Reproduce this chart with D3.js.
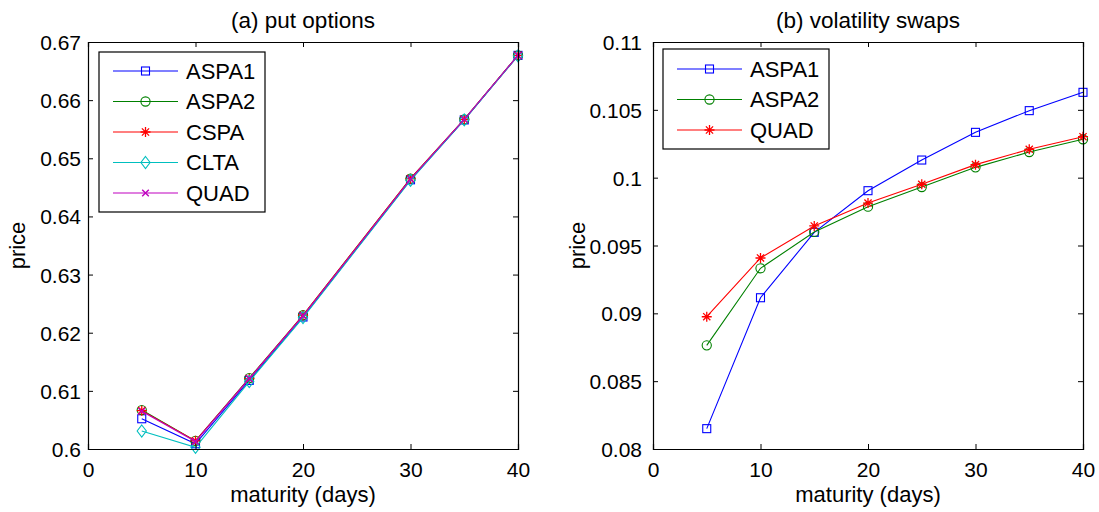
<!DOCTYPE html>
<html><head><meta charset="utf-8">
<script src="https://cdn.jsdelivr.net/npm/d3@7"></script>
<style>body{margin:0;background:#fff} text{font-family:"Liberation Sans",Arial,Helvetica,sans-serif;fill:#000}</style>
</head><body><svg id="c" width="1099" height="512"></svg>
<script>
// ---- data ----
const daysA = [5, 10, 15, 20, 30, 35, 40];
const aspa1A = [0.6052, 0.6009, 0.6118, 0.6227, 0.6463, 0.6566, 0.6677];
const aspa2A = [0.6067, 0.6014, 0.6122, 0.6230, 0.6465, 0.6567, 0.6677];
const cspaA  = [0.6066, 0.6014, 0.6121, 0.6230, 0.6465, 0.6567, 0.6677];
const cltaA  = [0.6031, 0.6003, 0.6116, 0.6226, 0.6462, 0.6566, 0.6676];
const quadA  = [0.6065, 0.6013, 0.6121, 0.6229, 0.6464, 0.6567, 0.6677];

const daysB = [5, 10, 15, 20, 25, 30, 35, 40];
const aspa1B = [0.08150, 0.09115, 0.09597, 0.09904, 0.10130, 0.10334, 0.10494, 0.10629];
const aspa2B = [0.08764, 0.09332, 0.09600, 0.09786, 0.09931, 0.10076, 0.10189, 0.10283];
const quadB  = [0.08975, 0.09408, 0.09644, 0.09813, 0.09951, 0.10096, 0.10209, 0.10302];

const xTicks = [0, 10, 20, 30, 40];
const yTicksA = [0.6, 0.61, 0.62, 0.63, 0.64, 0.65, 0.66, 0.67];
const yTicksB = [0.08, 0.085, 0.09, 0.095, 0.1, 0.105, 0.11];

const titleA = "(a) put options", titleB = "(b) volatility swaps";
const xLabel = "maturity (days)", yLabel = "price";

const seriesA = [
  {name: "ASPA1", values: aspa1A, color: "#0000ff", marker: "square"},
  {name: "ASPA2", values: aspa2A, color: "#008000", marker: "circle"},
  {name: "CSPA",  values: cspaA,  color: "#ff0000", marker: "star"},
  {name: "CLTA",  values: cltaA,  color: "#00bfbf", marker: "diamond"},
  {name: "QUAD",  values: quadA,  color: "#bf00bf", marker: "x"}
];
const seriesB = [
  {name: "ASPA1", values: aspa1B, color: "#0000ff", marker: "square"},
  {name: "ASPA2", values: aspa2B, color: "#008000", marker: "circle"},
  {name: "QUAD",  values: quadB,  color: "#ff0000", marker: "star"}
];

const svg = d3.select("#c");
const FS_TICK = 21, FS = 22, FS_TITLE = 22.5;

function drawMarker(g, type, x, y, color) {
  const s = g.append("g").attr("transform", `translate(${x},${y})`)
    .attr("fill", "none").attr("stroke", color).attr("stroke-width", 1.1);
  if (type === "square") s.append("rect").attr("x", -4).attr("y", -4).attr("width", 8).attr("height", 8);
  else if (type === "circle") s.append("circle").attr("r", 4.6);
  else if (type === "diamond") s.append("path").attr("d", "M0,-6L4.6,0L0,6L-4.6,0Z");
  else if (type === "x") s.append("path").attr("d", "M-3.3,-3.3L3.3,3.3M-3.3,3.3L3.3,-3.3").attr("stroke-width", 1.4);
  else if (type === "star") s.append("path").attr("d", "M0,-5L0,5M-5,0L5,0M-3.6,-3.6L3.6,3.6M-3.6,3.6L3.6,-3.6").attr("stroke-width", 1.3);
}

function panel(opts) {
  const {x0, x1, y0, y1, xs, series, yTicks, yDomain, title, fmt, legend, labelX, tickGap} = opts;
  const x = d3.scaleLinear().domain([0, 40]).range([x0, x1]);
  const y = d3.scaleLinear().domain(yDomain).range([y1, y0]);
  const g = svg.append("g");

  series.forEach(s => {
    const line = d3.line().x((d, i) => x(xs[i])).y(d => y(d));
    g.append("path").datum(s.values).attr("d", line)
      .attr("fill", "none").attr("stroke", s.color).attr("stroke-width", 1.1);
    s.values.forEach((v, i) => drawMarker(g, s.marker, x(xs[i]), y(v), s.color));
  });

  const tl = 5;
  const bottom = g.append("g").attr("transform", `translate(0,${y1})`)
    .call(d3.axisBottom(x).tickValues(xTicks).tickSize(-tl).tickPadding(13).tickFormat(d3.format("d")));
  const top = g.append("g").attr("transform", `translate(0,${y0})`)
    .call(d3.axisTop(x).tickValues(xTicks).tickSize(-tl).tickFormat(""));
  const left = g.append("g").attr("transform", `translate(${x0},0)`)
    .call(d3.axisLeft(y).tickValues(yTicks).tickSize(-tl).tickPadding(tickGap).tickFormat(fmt));
  const right = g.append("g").attr("transform", `translate(${x1},0)`)
    .call(d3.axisRight(y).tickValues(yTicks).tickSize(-tl).tickFormat(""));
  [bottom, top, left, right].forEach(a => {
    a.select(".domain").attr("stroke", "#000").attr("stroke-width", 1.2);
    a.selectAll(".tick line").attr("stroke", "#000").attr("stroke-width", 1);
    a.selectAll("text").attr("font-size", FS_TICK).attr("font-family", '"Liberation Sans",Arial,sans-serif').attr("fill", "#000");
  });
  bottom.selectAll(".tick text").attr("dy", "0.71em");
  left.selectAll(".tick text").attr("dy", "0.36em");

  g.append("text").attr("x", (x0 + x1) / 2).attr("y", 28).attr("text-anchor", "middle")
    .attr("font-size", FS_TITLE).text(title);
  g.append("text").attr("x", (x0 + x1) / 2).attr("y", 502).attr("text-anchor", "middle")
    .attr("font-size", FS).text(xLabel);
  g.append("text").attr("transform", `translate(${labelX},${(y0 + y1) / 2}) rotate(-90)`)
    .attr("text-anchor", "middle").attr("font-size", FS).text(yLabel);

  const L = legend;
  const lg = g.append("g");
  lg.append("rect").attr("x", L.x).attr("y", L.y).attr("width", L.w)
    .attr("height", L.h).attr("fill", "#fff").attr("stroke", "#000").attr("stroke-width", 1.2);
  series.forEach((s, i) => {
    const cy = L.y + L.first + i * L.rowH;
    lg.append("line").attr("x1", L.x + 14).attr("x2", L.x + 79).attr("y1", cy).attr("y2", cy)
      .attr("stroke", s.color).attr("stroke-width", 1.1);
    drawMarker(lg, s.marker, L.x + 46.5, cy, s.color);
    lg.append("text").attr("x", L.x + 87).attr("y", cy).attr("dy", "0.36em")
      .attr("font-size", FS).text(s.name);
  });
}

panel({x0: 88, x1: 518, y0: 42, y1: 449, xs: daysA, series: seriesA, yTicks: yTicksA,
  yDomain: [0.6, 0.67], title: titleA, fmt: d3.format(""), labelX: 25, tickGap: 7,
  legend: {x: 99, y: 52, w: 166, h: 160, first: 19, rowH: 30.5}});
panel({x0: 653, x1: 1083, y0: 42, y1: 449, xs: daysB, series: seriesB, yTicks: yTicksB,
  yDomain: [0.08, 0.11], title: titleB, fmt: d3.format(""), labelX: 585, tickGap: 11,
  legend: {x: 663, y: 49, w: 166, h: 100, first: 20, rowH: 30.5}});
</script></body></html>
